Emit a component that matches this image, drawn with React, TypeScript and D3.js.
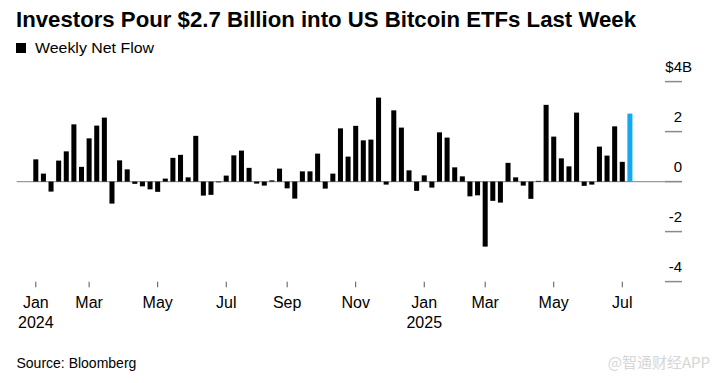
import React from "react";
import * as d3 from "d3";

const title = "Investors Pour $2.7 Billion into US Bitcoin ETFs Last Week";
const legendLabel = "Weekly Net Flow";
const source = "Source: Bloomberg";
const watermark = "@智通财经APP";

// Weekly net flow, $ billions, weeks ending on Sunday starting 2024-01-14
const firstWeek = "2024-01-14";
const flows = [
  0.89, 0.32, -0.4, 0.84, 1.21, 2.29, 0.59, 1.73, 2.24, 2.56,
  -0.88, 0.85, 0.49, -0.09, -0.19, -0.31, -0.41, 0.12, 0.95, 1.07,
  0.17, 1.83, -0.56, -0.53, -0.03, 0.24, 1.05, 1.24, 0.55, -0.08,
  -0.16, 0.05, 0.52, -0.27, -0.68, 0.41, 0.41, 1.12, -0.28, 0.32,
  2.13, 1.0, 2.23, 1.65, 1.68, 3.36, -0.12, 2.85, 2.16, 0.45,
  -0.37, 0.25, -0.24, 1.97, 1.76, 0.57, 0.21, -0.59, -0.55, -2.6,
  -0.77, -0.84, 0.75, 0.17, -0.16, -0.69, 0.03, 3.07, 1.8, 0.93,
  0.61, 2.76, -0.17, -0.12, 1.4, 1.04, 2.21, 0.79, 2.72,
];

const xTickDates = [
  "2024-01-14", "2024-03-03", "2024-05-05", "2024-07-07", "2024-09-01",
  "2024-11-03", "2025-01-05", "2025-03-02", "2025-05-04", "2025-07-06",
];
const yTicks = [4, 2, 0, -2, -4];

const parse = d3.timeParse("%Y-%m-%d");
const fmt = d3.timeFormat("%Y-%m-%d");

export default function App() {
  const W = 718;
  const H = 383;
  const start = parse(firstWeek) as Date;
  const weeks = flows.map((_, i) => fmt(d3.timeWeek.offset(start, i)));

  const x = d3
    .scaleBand<string>()
    .domain(weeks)
    .range([32, 633.7])
    .paddingInner(0.34)
    .paddingOuter(0.17);
  const y = d3.scaleLinear().domain([-4, 4]).range([281.6, 81.6]);

  const font = "'Liberation Sans', Arial, Helvetica, sans-serif";
  const last = flows.length - 1;

  return (
    <svg
      width={W}
      height={H}
      style={{ position: "absolute", left: 0, top: 0, background: "#fff" }}
      fontFamily={font}
    >
      <text
        x={16}
        y={26.5}
        fontSize={22}
        fontWeight="bold"
        fill="#000"
        textLength={620}
        lengthAdjust="spacingAndGlyphs"
      >
        {title}
      </text>
      <rect x={16} y={43} width={10} height={10} fill="#000" />
      <text x={35} y={53} fontSize={15.5} fill="#000" textLength={119} lengthAdjust="spacingAndGlyphs">
        {legendLabel}
      </text>

      {/* zero line */}
      <line x1={16.7} x2={682} y1={y(0)} y2={y(0)} stroke="#9a9a9a" strokeWidth={1.2} />

      {/* y ticks on right */}
      {yTicks.map((t) => (
        <g key={t}>
          <line x1={665} x2={682} y1={y(t)} y2={y(t)} stroke="#8a8a8a" strokeWidth={1.5} />
          <text x={682} y={y(t) - 10} fontSize={15} textAnchor="end" fill="#000">
            {t === 4 ? "$4" : String(t)}
          </text>
          {t === 4 && (
            <text x={682} y={y(t) - 10} fontSize={15} textAnchor="start" fill="#000">
              B
            </text>
          )}
        </g>
      ))}

      {/* bars */}
      {flows.map((v, i) => (
        <rect
          key={weeks[i]}
          x={x(weeks[i])}
          width={x.bandwidth()}
          y={y(Math.max(0, v))}
          height={Math.abs(y(v) - y(0))}
          fill={i === last ? "#12a8f4" : "#000"}
        />
      ))}

      {/* x ticks */}
      {xTickDates.map((d) => {
        const cx = (x(d) as number) + x.bandwidth() / 2;
        const dt = parse(d) as Date;
        const isJan = dt.getMonth() === 0;
        return (
          <g key={d}>
            <line x1={cx} x2={cx} y1={281.7} y2={287.3} stroke="#555" strokeWidth={1} />
            <text x={cx} y={308.3} fontSize={16} textAnchor="middle" fill="#000">
              {d3.timeFormat("%b")(dt)}
            </text>
            {isJan && (
              <text x={cx} y={328.3} fontSize={16} textAnchor="middle" fill="#000">
                {d3.timeFormat("%Y")(dt)}
              </text>
            )}
          </g>
        );
      })}

      <text x={16.5} y={368} fontSize={14} fill="#000">
        {source}
      </text>
      <text x={710} y={368} fontSize={15} textAnchor="end" fill="#d6d6d6" fontFamily="'Noto Sans CJK SC', 'Liberation Sans', sans-serif">
        {watermark}
      </text>
    </svg>
  );
}
